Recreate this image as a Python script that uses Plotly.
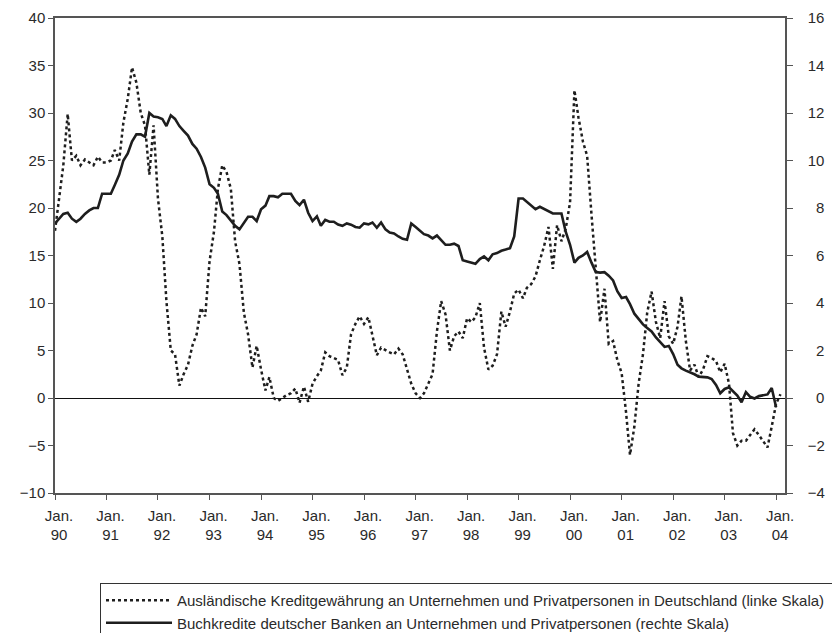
import pandas as pd
import plotly.graph_objects as go

# Dotted series: Ausländische Kreditgewährung (left scale), monthly from Jan 1990
foreign = [17.6, 21.0, 24.5, 29.9, 25.0, 25.5, 24.5, 25.1, 24.8, 24.5,
           25.4, 24.8, 24.8, 25.0, 26.1, 25.0, 29.0, 31.5, 34.8, 33.2,
           30.0, 28.7, 23.5, 28.7, 21.0, 17.0, 10.2, 5.0, 4.6, 1.3,
           2.5, 3.5, 5.5, 6.7, 9.5, 8.6, 14.4, 17.5, 22.0, 24.5,
           23.8, 22.0, 16.5, 14.1, 9.0, 6.7, 3.2, 5.5, 3.0, 0.8,
           2.2, 0.0, -0.3, 0.0, 0.3, 0.5, 1.0, -0.5, 1.2, -0.4,
           1.5, 2.3, 2.9, 4.8, 4.4, 4.2, 4.0, 2.4, 3.2, 6.7,
           7.8, 8.6, 7.8, 8.5, 6.7, 4.5, 5.3, 5.0, 4.8, 4.6,
           5.2, 4.6, 2.9, 1.5, 0.5, 0.0, 0.5, 1.5, 2.5, 7.0,
           10.2, 8.8, 5.0, 6.5, 7.0, 6.3, 8.4, 8.0, 8.5, 10.0,
           5.3, 3.0, 3.4, 4.6, 9.1, 7.5, 9.1, 11.0, 11.4, 10.5,
           11.6, 12.0, 12.8, 14.5, 16.0, 18.0, 13.6, 18.2, 16.5, 17.8,
           20.6, 32.4, 29.5, 27.0, 25.5, 19.3, 13.5, 8.0, 11.5, 5.7,
           6.0, 4.0, 2.6, -1.5, -6.0, -3.0, 1.5, 4.6, 9.0, 11.2,
           8.0, 6.3, 10.2, 6.5, 5.7, 7.5, 10.7, 6.0, 2.9, 3.5,
           2.2, 3.0, 4.4, 4.2, 3.9, 2.7, 3.6, 1.5, -3.7, -5.0,
           -4.5, -4.5, -3.9, -3.3, -3.9, -4.6, -5.2, -3.0, -0.6, 0.4]

# Solid series: Buchkredite deutscher Banken (right scale), monthly from Jan 1990
domestic = [7.35, 7.55, 7.75, 7.8, 7.55, 7.42, 7.55, 7.75, 7.9, 8.0,
            8.0, 8.6, 8.6, 8.6, 8.97, 9.4, 10.0, 10.3, 10.8, 11.1,
            11.1, 11.0, 12.0, 11.85, 11.82, 11.75, 11.45, 11.9, 11.75, 11.45,
            11.25, 11.05, 10.7, 10.5, 10.15, 9.7, 9.0, 8.85, 8.6, 7.85,
            7.7, 7.45, 7.25, 7.1, 7.4, 7.63, 7.63, 7.45, 7.95, 8.1,
            8.5, 8.5, 8.45, 8.6, 8.6, 8.6, 8.3, 8.12, 8.35, 7.8,
            7.45, 7.65, 7.25, 7.5, 7.42, 7.42, 7.3, 7.25, 7.35, 7.3,
            7.2, 7.17, 7.35, 7.31, 7.39, 7.17, 7.39, 7.1, 6.97, 6.93,
            6.8, 6.7, 6.66, 7.35, 7.2, 7.05, 6.9, 6.84, 6.72, 6.84,
            6.65, 6.45, 6.45, 6.5, 6.4, 5.8, 5.75, 5.7, 5.65, 5.85,
            5.96, 5.8, 6.05, 6.1, 6.2, 6.25, 6.31, 6.8, 8.4, 8.4,
            8.25, 8.12, 7.95, 8.05, 7.95, 7.85, 7.77, 7.77, 7.77, 7.0,
            6.45, 5.7, 5.9, 6.0, 6.15, 5.7, 5.3, 5.28, 5.3, 5.15,
            4.95, 4.5, 4.21, 4.25, 3.95, 3.55, 3.35, 3.1, 2.95, 2.8,
            2.55, 2.35, 2.15, 2.19, 1.85, 1.4, 1.25, 1.15, 1.08, 1.0,
            0.9, 0.87, 0.87, 0.8, 0.55, 0.2, 0.38, 0.45, 0.3, 0.1,
            -0.18, 0.25, 0.05, -0.02, 0.08, 0.12, 0.15, 0.42, -0.39]

years = list(range(1990, 2005))
x_tick_vals = [f"{y}-01-01" for y in years]
x_tick_text = [f"Jan.<br>{str(y)[2:]}" for y in years]

left_ticks = [-10, -5, 0, 5, 10, 15, 20, 25, 30, 35, 40]
right_ticks = [-4, -2, 0, 2, 4, 6, 8, 10, 12, 14, 16]
FS = "\u2007"
right_text = [(FS if 0 <= v < 10 else "") + (f"\u2212{abs(v)}" if v < 0 else str(v)) for v in right_ticks]

name_foreign = "Ausländische Kreditgewährung an Unternehmen und Privatpersonen in Deutschland (linke Skala)"
name_domestic = "Buchkredite deutscher Banken an Unternehmen und Privatpersonen (rechte Skala)"

dates_f = pd.date_range("1990-01-01", periods=len(foreign), freq="MS")
dates_d = pd.date_range("1990-01-01", periods=len(domestic), freq="MS")

FONT = "Liberation Sans, Arial, sans-serif"
INK = "#1e1e1e"
AX = "#555555"
TXT = "#2a2a2a"
OFF = 8  # page body margin

fig = go.Figure()
fig.add_trace(go.Scatter(x=dates_f, y=foreign, name=name_foreign, mode="lines",
                         line=dict(color=INK, width=2.5, dash="3px,3px"), yaxis="y"))
fig.add_trace(go.Scatter(x=dates_d, y=domestic, name=name_domestic, mode="lines",
                         line=dict(color=INK, width=2.6), yaxis="y2"))

fig.update_layout(
    width=840, height=633,
    margin=dict(l=55 - OFF, r=840 - 785 + OFF, t=18 - OFF, b=633 - 493 + OFF, autoexpand=False),
    paper_bgcolor="white", plot_bgcolor="white",
    font=dict(family=FONT, size=15, color=TXT),
    showlegend=True,
    legend=dict(orientation="h", xref="container", yref="container",
                x=(100 - OFF) / 840, xanchor="left",
                y=1 - (583 - OFF) / 633, yanchor="top",
                bordercolor="#333333", borderwidth=1, bgcolor="white",
                font=dict(family=FONT, size=15, color=TXT),
                itemwidth=66, entrywidth=654, entrywidthmode="pixels",
                tracegroupgap=0, traceorder="normal"),
    xaxis=dict(type="date", range=["1990-01-01", "2004-03-04"],
               tickvals=x_tick_vals, ticktext=x_tick_text,
               ticks="outside", ticklen=5, tickcolor=AX, tickwidth=1.2,
               showline=True, linecolor=AX, linewidth=1.5, mirror=True,
               showgrid=False, zeroline=False, ticklabelshift=4,
               ticklabelstandoff=3, ticklabeloverflow="allow"),
    yaxis=dict(range=[-10, 40], tickvals=left_ticks,
               ticks="outside", ticklen=5, tickcolor=AX, tickwidth=1.2,
               showline=True, linecolor=AX, linewidth=1.5,
               showgrid=False, zeroline=True, zerolinecolor="#111111",
               zerolinewidth=1.4, ticklabelstandoff=0, ticklabeloverflow="allow"),
    yaxis2=dict(range=[-4, 16], tickvals=right_ticks, ticktext=right_text,
                overlaying="y", side="right",
                ticks="outside", ticklen=6, tickcolor=AX, tickwidth=1.2,
                showline=True, linecolor=AX, linewidth=1.5,
                showgrid=False, zeroline=False, ticklabelstandoff=12,
                ticklabeloverflow="allow"),
)

fig.write_html("out.html")
